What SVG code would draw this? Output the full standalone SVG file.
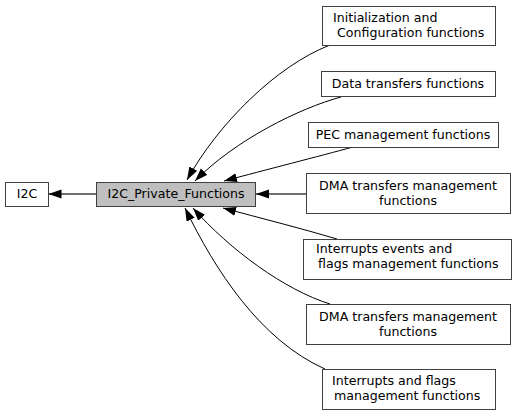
<svg xmlns="http://www.w3.org/2000/svg" width="519" height="416" viewBox="0 0 519 416">
<defs>
<marker id="ah" markerUnits="userSpaceOnUse" markerWidth="14" markerHeight="10" refX="13" refY="4.5" orient="auto">
<path d="M0,0 L13,4.5 L0,9 z" fill="#000"/>
</marker>
</defs>
<style>
.box{fill:#fff;stroke:#404040;stroke-width:1}
.cur{fill:#bfbfbf;stroke:#404040;stroke-width:1}
text{font-family:"DejaVu Sans",sans-serif;font-size:12.6px;fill:#000}
.e{fill:none;stroke:#000;stroke-width:1;marker-end:url(#ah)}
.g{fill:none;stroke:#404040;stroke-width:1.6;marker-end:url(#ah)}
</style>
<rect width="519" height="416" fill="#fff"/>
<g id="connectors">
<path class="g" d="M96,194 L48.5,194"/>
<path class="g" d="M306,194 L256,194"/>
<path class="e" d="M330,45 C276,66 218,124 187,180"/>
<path class="e" d="M341,97 C300,108 235,140 195,181"/>
<path class="e" d="M353,147 C320,156 265,170 224,181"/>
<path class="e" d="M337,239 C300,228 260,218 223,208"/>
<path class="e" d="M330,304 C285,290 230,250 193,208"/>
<path class="e" d="M325,369 C260,340 215,270 185,208"/>
</g>
<g id="i2c"><rect class="box" x="5.5" y="182.5" width="43" height="24"/><text x="27" y="198" text-anchor="middle">I2C</text></g>
<g id="private"><rect class="cur" x="96.5" y="182.5" width="159" height="24"/><text x="176" y="198" text-anchor="middle">I2C_Private_Functions</text></g>
<g id="init"><rect class="box" x="322.5" y="6.5" width="173" height="39"/><text x="333" y="22">Initialization and</text><text x="337" y="37">Configuration functions</text></g>
<g id="data"><rect class="box" x="321.5" y="71.5" width="174" height="25"/><text x="408" y="88" text-anchor="middle">Data transfers functions</text></g>
<g id="pec"><rect class="box" x="308.5" y="122.5" width="190" height="25"/><text x="403" y="139" text-anchor="middle">PEC management functions</text></g>
<g id="dma1"><rect class="box" x="306.5" y="173.5" width="204" height="40"/><text x="408" y="190" text-anchor="middle">DMA transfers management</text><text x="408" y="205" text-anchor="middle">functions</text></g>
<g id="intev"><rect class="box" x="303.5" y="239.5" width="208" height="40"/><text x="316" y="253">Interrupts events and</text><text x="318" y="268">flags management functions</text></g>
<g id="dma2"><rect class="box" x="306.5" y="304.5" width="204" height="40"/><text x="408" y="321" text-anchor="middle">DMA transfers management</text><text x="408" y="336" text-anchor="middle">functions</text></g>
<g id="intfl"><rect class="box" x="322.5" y="369.5" width="173" height="40"/><text x="332" y="385">Interrupts and flags</text><text x="334" y="400">management functions</text></g>
</svg>
